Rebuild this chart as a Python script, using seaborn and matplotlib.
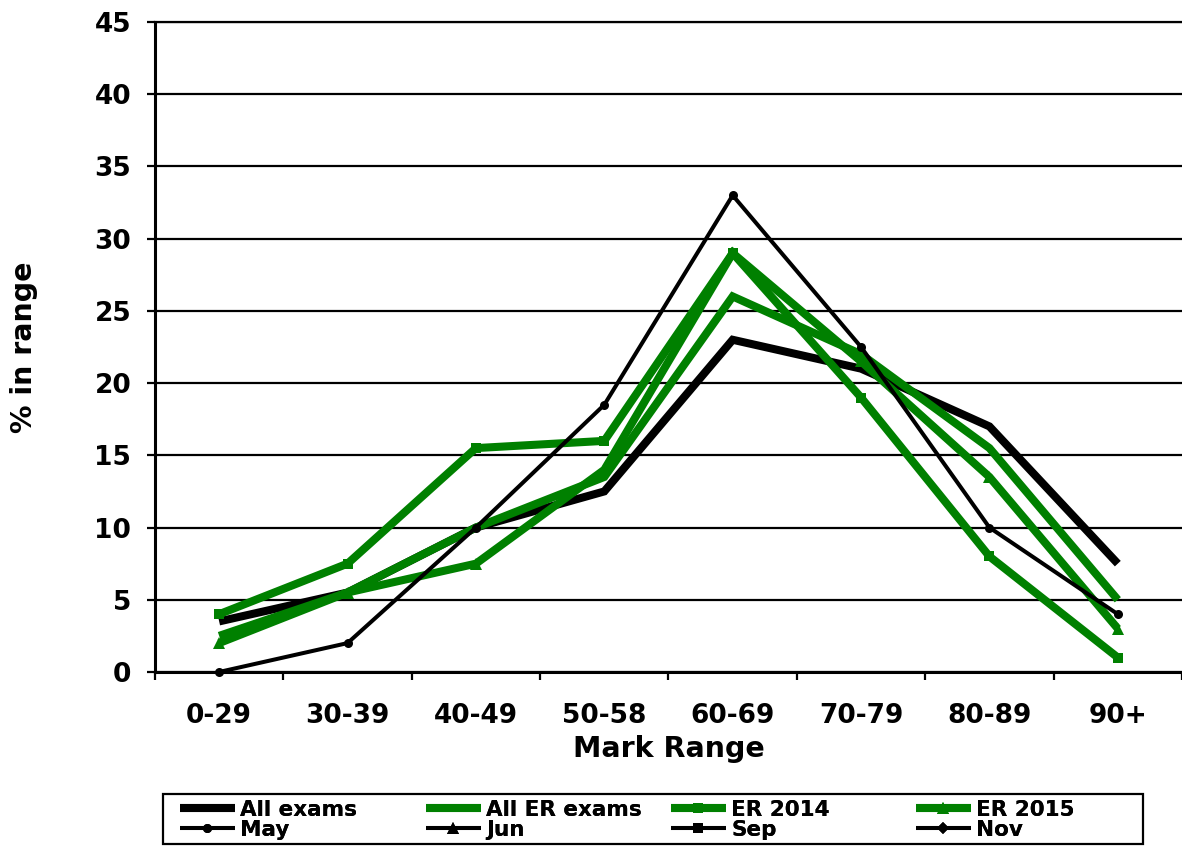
import numpy as np
import pandas as pd
import matplotlib
matplotlib.use("Agg")
import matplotlib.pyplot as plt
import seaborn as sns
from matplotlib.patches import Rectangle
from matplotlib.ticker import MultipleLocator, FixedLocator

# Mark ranges on the x axis
categories = ["0-29", "30-39", "40-49", "50-58", "60-69", "70-79", "80-89", "90+"]

# Percentage of candidates in each mark range
all_exams = [3.5, 5.5, 10.0, 12.5, 23.0, 21.0, 17.0, 7.5]
all_er_exams = [2.5, 5.5, 10.0, 13.5, 26.0, 22.0, 15.5, 5.0]
er_2014 = [4.0, 7.5, 15.5, 16.0, 29.0, 19.0, 8.0, 1.0]
er_2015 = [2.0, 5.5, 7.5, 14.0, 29.0, 21.5, 13.5, 3.0]
may = [0.0, 2.0, 10.0, 18.5, 33.0, 22.5, 10.0, 4.0]
jun = [np.nan] * 8
sep = [np.nan] * 8
nov = [np.nan] * 8

series_names = ["All exams", "All ER exams", "ER 2014", "ER 2015", "May", "Jun", "Sep", "Nov"]
series_values = [all_exams, all_er_exams, er_2014, er_2015, may, jun, sep, nov]

GREEN = "#008000"
BLACK = "#000000"
styles = {
    "All exams":    dict(color=BLACK, lw=5.8, marker=None, ms=0),
    "All ER exams": dict(color=GREEN, lw=5.8, marker=None, ms=0),
    "ER 2014":      dict(color=GREEN, lw=5.8, marker="s", ms=7.5),
    "ER 2015":      dict(color=GREEN, lw=5.8, marker="^", ms=8.5),
    "May":          dict(color=BLACK, lw=2.9, marker="o", ms=6.5),
    "Jun":          dict(color=BLACK, lw=2.9, marker="^", ms=8.5),
    "Sep":          dict(color=BLACK, lw=2.9, marker="s", ms=7.5),
    "Nov":          dict(color=BLACK, lw=2.9, marker="D", ms=6.5),
}

sns.set_style("white")
plt.rcParams["font.family"] = ["DejaVu Sans"]
plt.rcParams["font.weight"] = "bold"
for key in ["text.color", "axes.labelcolor", "xtick.color", "ytick.color"]:
    plt.rcParams[key] = "black"

fig = plt.figure(figsize=(11.82, 8.46), dpi=100)
ax = fig.add_axes([0.1311, 0.2057, 0.8689, 0.7683])

x_pos = np.arange(len(categories))
handles = {}
for name, vals in zip(series_names, series_values):
    st = styles[name]
    df = pd.DataFrame({"x": x_pos, "y": vals})
    if df["y"].notna().any():
        sns.lineplot(data=df, x="x", y="y", ax=ax, color=st["color"], linewidth=st["lw"],
                     marker=st["marker"], markersize=st["ms"], markeredgewidth=0,
                     sort=False, legend=False, clip_on=False)
        line = ax.get_lines()[-1]
    else:
        line, = ax.plot(x_pos, df["y"], color=st["color"], linewidth=st["lw"],
                        marker=st["marker"], markersize=st["ms"], markeredgewidth=0)
    line.set_solid_joinstyle("miter")
    line.set_solid_capstyle("butt")
    handles[name] = line

ax.set_xlim(-0.5, len(categories) - 0.5)
ax.set_ylim(0, 45)
ax.yaxis.set_major_locator(MultipleLocator(5))
ax.set_xticks(x_pos)
ax.set_xticklabels(categories)
ax.xaxis.set_minor_locator(FixedLocator(np.arange(-0.5, len(categories), 1.0)))

ax.grid(axis="y", color="black", linewidth=1.6)
ax.grid(axis="x", visible=False)
ax.set_axisbelow(True)

for side in ["left", "bottom", "top"]:
    ax.spines[side].set_visible(True)
    ax.spines[side].set_color("black")
ax.spines["left"].set_linewidth(2.2)
ax.spines["bottom"].set_linewidth(2.2)
ax.spines["top"].set_linewidth(1.6)
ax.spines["right"].set_visible(False)

ax.tick_params(axis="y", which="major", direction="out", length=6, width=1.6,
               color="black", pad=11, labelsize=19, left=True)
ax.tick_params(axis="x", which="major", length=0, pad=22, labelsize=19, bottom=True)
ax.tick_params(axis="x", which="minor", direction="out", length=6, width=1.6,
               color="black", bottom=True)
for lab in ax.get_xticklabels() + ax.get_yticklabels():
    lab.set_fontweight("bold")

ax.set_xlabel("Mark Range", fontsize=20.5, fontweight="bold")
ax.set_ylabel("% in range", fontsize=20.5, fontweight="bold")
ax.xaxis.set_label_coords(0.5, -0.097)
ax.yaxis.set_label_coords(-0.114, 0.5)

# Legend: four evenly spaced columns of two entries inside one box
W, H = 1182.0, 846.0
fig.add_artist(Rectangle((163 / W, 1 - 844 / H), (1143 - 163) / W, (844 - 794) / H,
                         transform=fig.transFigure, fill=False, edgecolor="black",
                         linewidth=1.6))
columns = [("All exams", "May"), ("All ER exams", "Jun"),
           ("ER 2014", "Sep"), ("ER 2015", "Nov")]
col_x = [180, 426, 671, 916]
for (top_name, bottom_name), cx in zip(columns, col_x):
    leg = fig.legend([handles[top_name], handles[bottom_name]], [top_name, bottom_name],
                     loc="center left", bbox_to_anchor=(cx / W, 1 - 820 / H),
                     numpoints=1, frameon=False, borderpad=0.0, borderaxespad=0.0,
                     labelspacing=0.0, handlelength=2.55, handletextpad=0.25,
                     prop={"weight": "bold", "size": 15.5})
    fig.add_artist(leg)

fig.savefig("out.png", dpi=100)
